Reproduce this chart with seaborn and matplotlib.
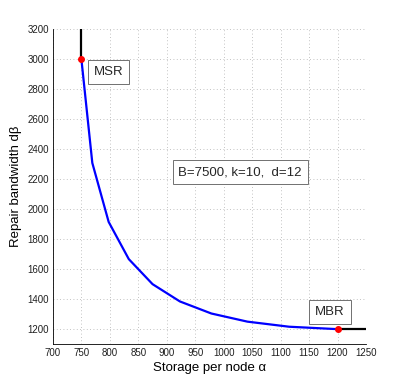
import matplotlib
matplotlib.use("Agg")
import matplotlib.pyplot as plt
import seaborn as sns
import pandas as pd

# Tradeoff curve corner points (storage alpha, repair bandwidth d*beta)
alpha = [750, 769.2, 797.9, 833.3, 875, 923.1, 978.3, 1041.7, 1114.9, 1200]
gamma = [3000, 2307.7, 1914.9, 1666.7, 1500, 1384.6, 1304.3, 1250, 1216.2, 1200]
# extensions beyond the extreme points
msr_ext_x = [750, 750]
msr_ext_y = [3000, 3200]
mbr_ext_x = [1200, 1250]
mbr_ext_y = [1200, 1200]
# highlighted points
pts_x = [750, 1200]
pts_y = [3000, 1200]
xticks = list(range(700, 1251, 50))
yticks = list(range(1200, 3201, 200))

sns.set_theme(style="white")
plt.rcParams['font.family'] = ['Liberation Sans', 'DejaVu Sans']

fig = plt.figure(figsize=(4.04, 3.88), dpi=100)
ax = fig.add_axes([0.131, 0.113, 0.775, 0.812])

df = pd.DataFrame({"alpha": alpha, "gamma": gamma})
sns.lineplot(data=df, x="alpha", y="gamma", ax=ax, color="#0000ff", lw=1.6,
             sort=False, estimator=None, zorder=3)
ax.plot(msr_ext_x, msr_ext_y, color="black", lw=1.6, zorder=3, solid_capstyle="butt")
ax.plot(mbr_ext_x, mbr_ext_y, color="black", lw=1.6, zorder=3, solid_capstyle="butt")
ax.plot(pts_x, pts_y, 'o', color="red", ms=4, mec="red", zorder=4)

ax.set_xlim(700, 1250)
ax.set_ylim(1100, 3200)
ax.set_xticks(xticks)
ax.set_yticks(yticks)
ax.tick_params(axis='both', labelsize=7, direction='in', length=2.5, width=0.5,
               colors='#202020', pad=3)
ax.grid(True, linestyle=(0, (1, 3)), color='#b0b0b0', lw=0.6)
for s in ['top', 'right']:
    ax.spines[s].set_visible(False)
for s in ['left', 'bottom']:
    ax.spines[s].set_color('black')
    ax.spines[s].set_linewidth(0.6)

ax.set_xlabel("Storage per node α", fontsize=9.5, labelpad=3, color='black')
ax.set_ylabel("Repair bandwidth dβ", fontsize=9.5, labelpad=4, color='black')

bbox = dict(boxstyle="square,pad=0.45", fc="white", ec="#707070", lw=0.7)
ax.text(772, 2913, "MSR", fontsize=9.5, ha="left", va="center", bbox=bbox, zorder=5)
ax.text(1187, 1317, "MBR", fontsize=9.5, ha="center", va="center", bbox=bbox, zorder=5)
ax.text(1029, 2247, "B=7500, k=10,  d=12", fontsize=9.5, ha="center", va="center",
        bbox=bbox, zorder=5)

fig.savefig("out.png", dpi=100)
